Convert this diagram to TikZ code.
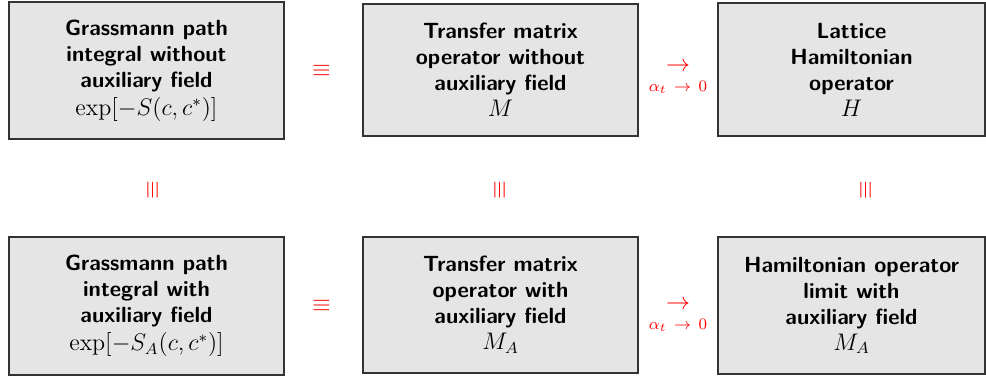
\documentclass[tikz,border=0pt]{standalone}
\usetikzlibrary{calc}
\begin{document}
\begin{tikzpicture}[x=0.5pt,y=-0.5pt,
  box/.style={draw=black!80,line width=0.6pt,fill=gray!20,align=center,
    inner sep=0pt,font=\fontsize{11}{13}\selectfont\sffamily\bfseries},
  mth/.style={},
  rel/.style={text=red,inner sep=0pt,font=\fontsize{13}{15}\selectfont},
  lim/.style={text=red,inner sep=0pt,align=center,font=\fontsize{11.5}{13}\selectfont}]
\newcommand{\mymath}[1]{\fontsize{11.8}{13}\selectfont\mdseries$#1$}
\useasboundingbox (0,0) rectangle (986,377);
\node[box,minimum width=275*0.5pt,minimum height=137*0.5pt] (b1) at (146.5,70.5)
  {Grassmann path\\integral without\\auxiliary field\\[1pt]\mymath{\exp[-S(c,c^*)]}};
\node[box,minimum width=275*0.5pt,minimum height=132*0.5pt] (b2) at (500.5,70)
  {Transfer matrix\\operator without\\auxiliary field\\\mymath{M}};
\node[box,minimum width=267*0.5pt,minimum height=133*0.5pt] (b3) at (851.5,69.5)
  {Lattice\\Hamiltonian\\operator\\\mymath{H}};
\node[box,minimum width=275*0.5pt,minimum height=138*0.5pt] (b4) at (146.5,306)
  {Grassmann path\\integral with\\auxiliary field\\[1pt]\mymath{\exp[-S_A(c,c^*)]}};
\node[box,minimum width=275*0.5pt,minimum height=136*0.5pt] (b5) at (500.5,305)
  {Transfer matrix\\operator with\\auxiliary field\\\mymath{M_A}};
\node[box,minimum width=267*0.5pt,minimum height=137*0.5pt] (b6) at (851.5,305.5)
  {Hamiltonian operator\\limit with\\auxiliary field\\\mymath{M_A}};
% equivalences
\node[rel] (e1) at ($(b1.east)!0.5!(b2.west)+(-2,1)$) {$\equiv$};
\node[rel] (e2) at ($(b4.east)!0.5!(b5.west)+(-2,0)$) {$\equiv$};
\node[rel,rotate=90] (v1) at (153,190) {$\equiv$};
\node[rel,rotate=90] (v2) at (500,190) {$\equiv$};
\node[rel,rotate=90] (v3) at (866,190) {$\equiv$};
% limits
\node[lim] (l1) at ($(b2.east)!0.5!(b3.west)+(0,8)$)
  {$\rightarrow$\\[-3pt]$\scriptstyle\alpha_t\ \to\ 0$};
\node[lim] (l2) at ($(b5.east)!0.5!(b6.west)+(0,11)$)
  {$\rightarrow$\\[-3pt]$\scriptstyle\alpha_t\ \to\ 0$};
\end{tikzpicture}
\end{document}
